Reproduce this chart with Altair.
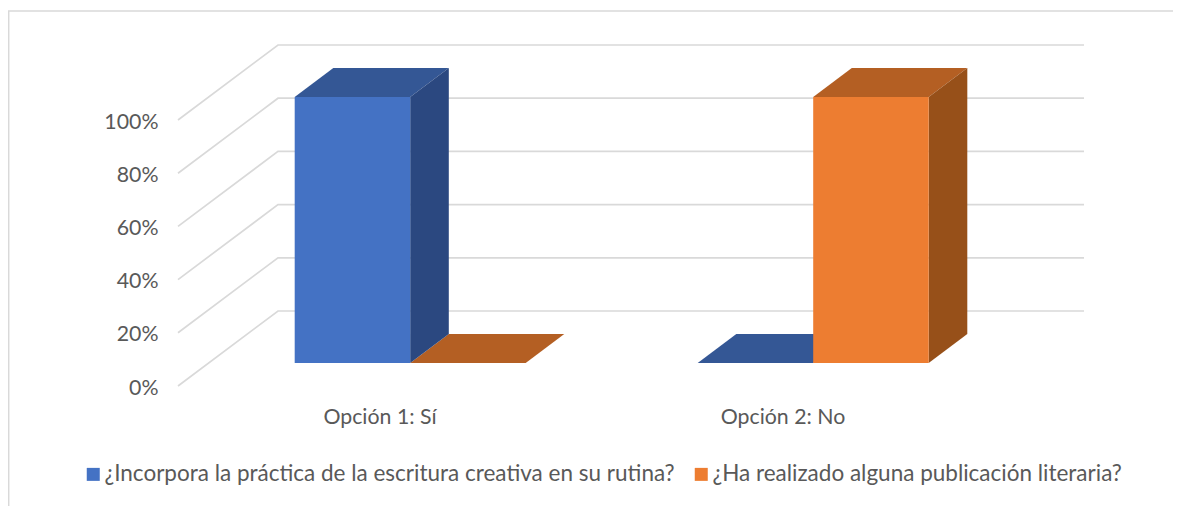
import altair as alt
import pandas as pd

categories = ["Opción 1: Sí", "Opción 2: No"]
series_names = ["¿Incorpora la práctica de la escritura creativa en su rutina?",
                "¿Ha realizado alguna publicación literaria?"]
series_values = [[100, 0], [0, 100]]
y_ticks = [0, 20, 40, 60, 80, 100]
front_colors = ["#4472C4", "#ED7D31"]
top_colors = ["#345795", "#B45F23"]
side_colors = ["#2B4880", "#975019"]
grid_color = "#D9D9D9"
text_color = "#595959"
font = "Lato"

W, H = 1165, 498
# plot geometry: how many pixels one category slot and one percent take
X0, SLOT = 170.0, 403.0
Y0, PCT = 378.0, 2.66
DEPTH_X = 100.0 / SLOT   # floor depth, in category slots
DEPTH_Y = 75.0 / PCT     # floor depth, in percent
BAR_W = 0.2866           # bar width in slots
D0, D1 = 0.307, 0.693    # bar's position in the floor depth

x_scale = alt.Scale(domain=[-X0 / SLOT, (W - X0) / SLOT], range=[0, W], nice=False, zero=False)
y_scale = alt.Scale(domain=[(Y0 - H) / PCT, Y0 / PCT], range=[H, 0], nice=False, zero=False)

# Gridlines on the side wall and the back wall
grid_rows = []
for t in y_ticks:
    grid_rows += [
        {"tick": t, "o": 0, "u": 0.0, "p": t},
        {"tick": t, "o": 1, "u": DEPTH_X, "p": t + DEPTH_Y},
        {"tick": t, "o": 2, "u": len(categories) + DEPTH_X, "p": t + DEPTH_Y},
    ]

label_expr_x = "datum.value < 1 ? '%s' : '%s'" % (categories[0], categories[1])
grid = alt.Chart(pd.DataFrame(grid_rows)).mark_line(color=grid_color, strokeWidth=1.7).encode(
    x=alt.X("u:Q", scale=x_scale, title=None,
            axis=alt.Axis(values=[0.5, 1.5], labelExpr=label_expr_x, offset=-(H - 398.5), labelPadding=0,
                          labelFontSize=21.3, labelColor=text_color, labelFont=font,
                          domain=False, ticks=False, grid=False, labelBaseline="top", labelAngle=0)),
    y=alt.Y("p:Q", scale=y_scale, title=None,
            axis=alt.Axis(values=y_ticks, labelExpr="datum.value + '%'", offset=-150, labelPadding=0,
                          labelOffset=2, labelFontSize=21.3, labelColor=text_color, labelFont=font,
                          domain=False, ticks=False, grid=False)),
    detail="tick:N",
    order="o:Q",
)

# Top and side faces of the bars, projected from the values
front_rows, face_rows = [], []
for s, (name, vals) in enumerate(zip(series_names, series_values)):
    for c, v in enumerate(vals):
        xr = c + 0.5 + D0 * DEPTH_X if s == 0 else c + 0.5 + D0 * DEPTH_X + BAR_W
        xl = xr - BAR_W
        dx = (D1 - D0) * DEPTH_X
        y_f = v + D0 * DEPTH_Y
        y_b = v + D1 * DEPTH_Y
        base_f = D0 * DEPTH_Y
        base_b = D1 * DEPTH_Y
        front_rows.append({"series": name, "x": xl, "x2": xr, "y": y_f, "y2": base_f})
        top = f"top{s}{c}"
        for a, lo, hi in [(xl, y_f, y_f), (xl + dx, y_f, y_b), (xr, y_f, y_b), (xr + dx, y_b, y_b)]:
            face_rows.append({"face": top, "color": top_colors[s], "x": a, "lo": lo, "hi": hi})
        if v > 0:
            side = f"side{s}{c}"
            face_rows.append({"face": side, "color": side_colors[s], "x": xr, "lo": base_f, "hi": y_f})
            face_rows.append({"face": side, "color": side_colors[s], "x": xr + dx, "lo": base_b, "hi": y_b})

faces = pd.DataFrame(face_rows)
layers = [grid]
for shade in top_colors + side_colors:
    layers.append(
        alt.Chart(faces[faces["color"] == shade]).mark_area(color=shade, opacity=1).encode(
            x=alt.X("x:Q", scale=x_scale),
            y=alt.Y("lo:Q", scale=y_scale, stack=None),
            y2="hi:Q",
            detail="face:N",
        )
    )

front = alt.Chart(pd.DataFrame(front_rows)).mark_rect().encode(
    x=alt.X("x:Q", scale=x_scale),
    x2="x2:Q",
    y=alt.Y("y:Q", scale=y_scale),
    y2="y2:Q",
    color=alt.Color("series:N", sort=series_names,
                    scale=alt.Scale(domain=series_names, range=front_colors),
                    legend=alt.Legend(orient="none", legendX=74, legendY=455, direction="horizontal", columns=2,
                                      title=None, symbolType="square", symbolSize=169, symbolStrokeWidth=0,
                                      symbolOpacity=1, labelFontSize=22.5, labelFont=font, labelColor=text_color,
                                      labelLimit=800, labelOffset=0, columnPadding=15, padding=0)),
)
layers.append(front)

# Picture frame: top and left borders
frame_top = alt.Chart(pd.DataFrame({"k": [0]})).mark_rule(color=grid_color, strokeWidth=1.7).encode(
    x=alt.value(0), x2=alt.value(W), y=alt.value(3))
frame_left = alt.Chart(pd.DataFrame({"k": [0]})).mark_rule(color=grid_color, strokeWidth=1.7).encode(
    x=alt.value(0.6), y=alt.value(3), y2=alt.value(H))
layers += [frame_top, frame_left]

chart = alt.layer(*layers).properties(
    width=W, height=H, padding=0, autosize=alt.AutoSizeParams(type="none"), background="white"
).configure_view(stroke=None)

chart.save("out.html", embed_options={"renderer": "svg", "actions": False})
